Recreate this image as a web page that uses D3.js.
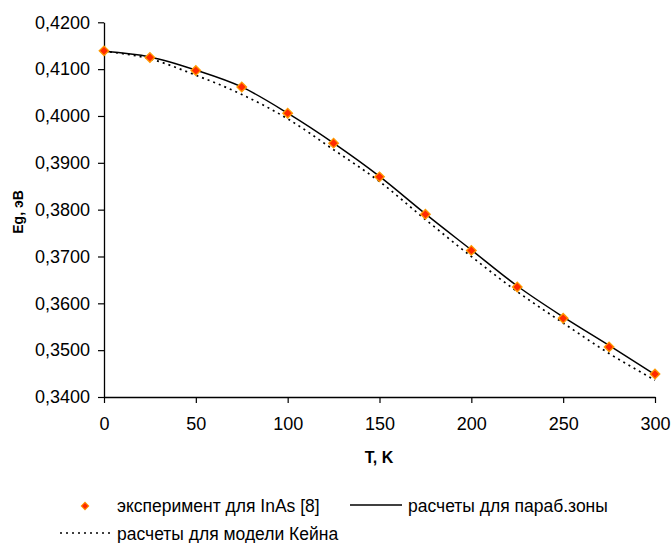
<!DOCTYPE html>
<html>
<head>
<meta charset="utf-8">
<script src="https://cdn.jsdelivr.net/npm/d3@7"></script>
<style>
  body { margin: 0; background: #fff; }
  svg { display: block; font-family: "Liberation Sans", Arial, sans-serif; }
</style>
</head>
<body>
<svg id="chart" width="672" height="543"></svg>
<script>
// ---- data ----
const temps = [0, 25, 50, 75, 100, 125, 150, 175, 200, 225, 250, 275, 300];
const experiment = [0.4139, 0.4125, 0.4097, 0.4062, 0.4006, 0.3942, 0.3870, 0.3790, 0.3713, 0.3635, 0.3568, 0.3507, 0.3449];
const parabolic = [0.4138, 0.4126, 0.4098, 0.4062, 0.4006, 0.3942, 0.3871, 0.3791, 0.3714, 0.3637, 0.3571, 0.3510, 0.3448];
const kane = [0.4138, 0.4122, 0.4087, 0.4046, 0.3994, 0.3928, 0.3860, 0.3779, 0.3700, 0.3625, 0.3558, 0.3493, 0.3436];
const xTicks = [0, 50, 100, 150, 200, 250, 300];
const yTicks = [0.34, 0.35, 0.36, 0.37, 0.38, 0.39, 0.40, 0.41, 0.42];
const legendLabels = ["эксперимент для InAs [8]", "расчеты для параб.зоны", "расчеты для модели Кейна"];
const xTitle = "T, K";
const yTitle = "Eg, эВ";

const svg = d3.select("#chart");
const x = d3.scaleLinear().domain([0, 300]).range([104, 655]);
const y = d3.scaleLinear().domain([0.34, 0.42]).range([397, 22.3]);

const fmt = v => d3.format(".4f")(v).replace(".", ",");

// axes
const xAxis = svg.append("g").attr("transform", `translate(0,${y(0.34)})`)
  .call(d3.axisBottom(x).tickValues(xTicks).tickSize(6).tickSizeOuter(0).tickPadding(14));
const yAxis = svg.append("g").attr("transform", `translate(${x(0)},0)`)
  .call(d3.axisLeft(y).tickValues(yTicks).tickFormat(fmt).tickSize(6).tickSizeOuter(0).tickPadding(8));
[xAxis, yAxis].forEach(g => {
  g.select(".domain").attr("stroke", "#000").attr("stroke-width", 1.3);
  g.selectAll(".tick line").attr("stroke", "#000").attr("stroke-width", 1.2);
  g.selectAll(".tick text").attr("fill", "#000").style("font-size", "18px").style("font-family", "Liberation Sans, Arial, sans-serif");
});

// titles
svg.append("text").attr("x", 379).attr("y", 457).attr("dy", "0.35em")
  .attr("text-anchor", "middle").style("font-weight", "bold").style("font-size", "16px").text(xTitle);
svg.append("text").attr("transform", "translate(18,212) rotate(-90)").attr("dy", "0.35em")
  .attr("text-anchor", "middle").style("font-weight", "bold").style("font-size", "14px").text(yTitle);

// lines
const lineGen = arr => d3.line().x((d, i) => x(temps[i])).y(d => y(d)).curve(d3.curveMonotoneX)(arr);
svg.append("path").attr("d", lineGen(kane)).attr("fill", "none")
  .attr("stroke", "#000").attr("stroke-width", 1.7).attr("stroke-dasharray", "2,4");
svg.append("path").attr("d", lineGen(parabolic)).attr("fill", "none")
  .attr("stroke", "#000").attr("stroke-width", 1.5);

// markers (square rotated 45 degrees)
const diamond = d3.symbol().type(d3.symbolSquare).size(46);
svg.append("g").selectAll("path").data(experiment).join("path")
  .attr("d", diamond)
  .attr("transform", (d, i) => `translate(${x(temps[i])},${y(d)}) rotate(45)`)
  .attr("fill", "#ff2a00").attr("stroke", "#ff9a00").attr("stroke-width", 1.3);

// legend
const lg = svg.append("g").style("font-size", "17.5px");
lg.append("path").attr("d", d3.symbol().type(d3.symbolSquare).size(28))
  .attr("transform", "translate(85,506) rotate(45)").attr("fill", "#ff2a00").attr("stroke", "#ff9a00").attr("stroke-width", 1);
lg.append("text").attr("x", 117).attr("y", 506).attr("dy", "0.35em").text(legendLabels[0]);
lg.append("line").attr("x1", 350).attr("x2", 402).attr("y1", 505).attr("y2", 505)
  .attr("stroke", "#000").attr("stroke-width", 1.5);
lg.append("text").attr("x", 408).attr("y", 506).attr("dy", "0.35em").text(legendLabels[1]);
lg.append("line").attr("x1", 60).attr("x2", 112).attr("y1", 533).attr("y2", 533)
  .attr("stroke", "#000").attr("stroke-width", 1.7).attr("stroke-dasharray", "2,4");
lg.append("text").attr("x", 117).attr("y", 534).attr("dy", "0.35em").text(legendLabels[2]);
</script>
</body>
</html>
